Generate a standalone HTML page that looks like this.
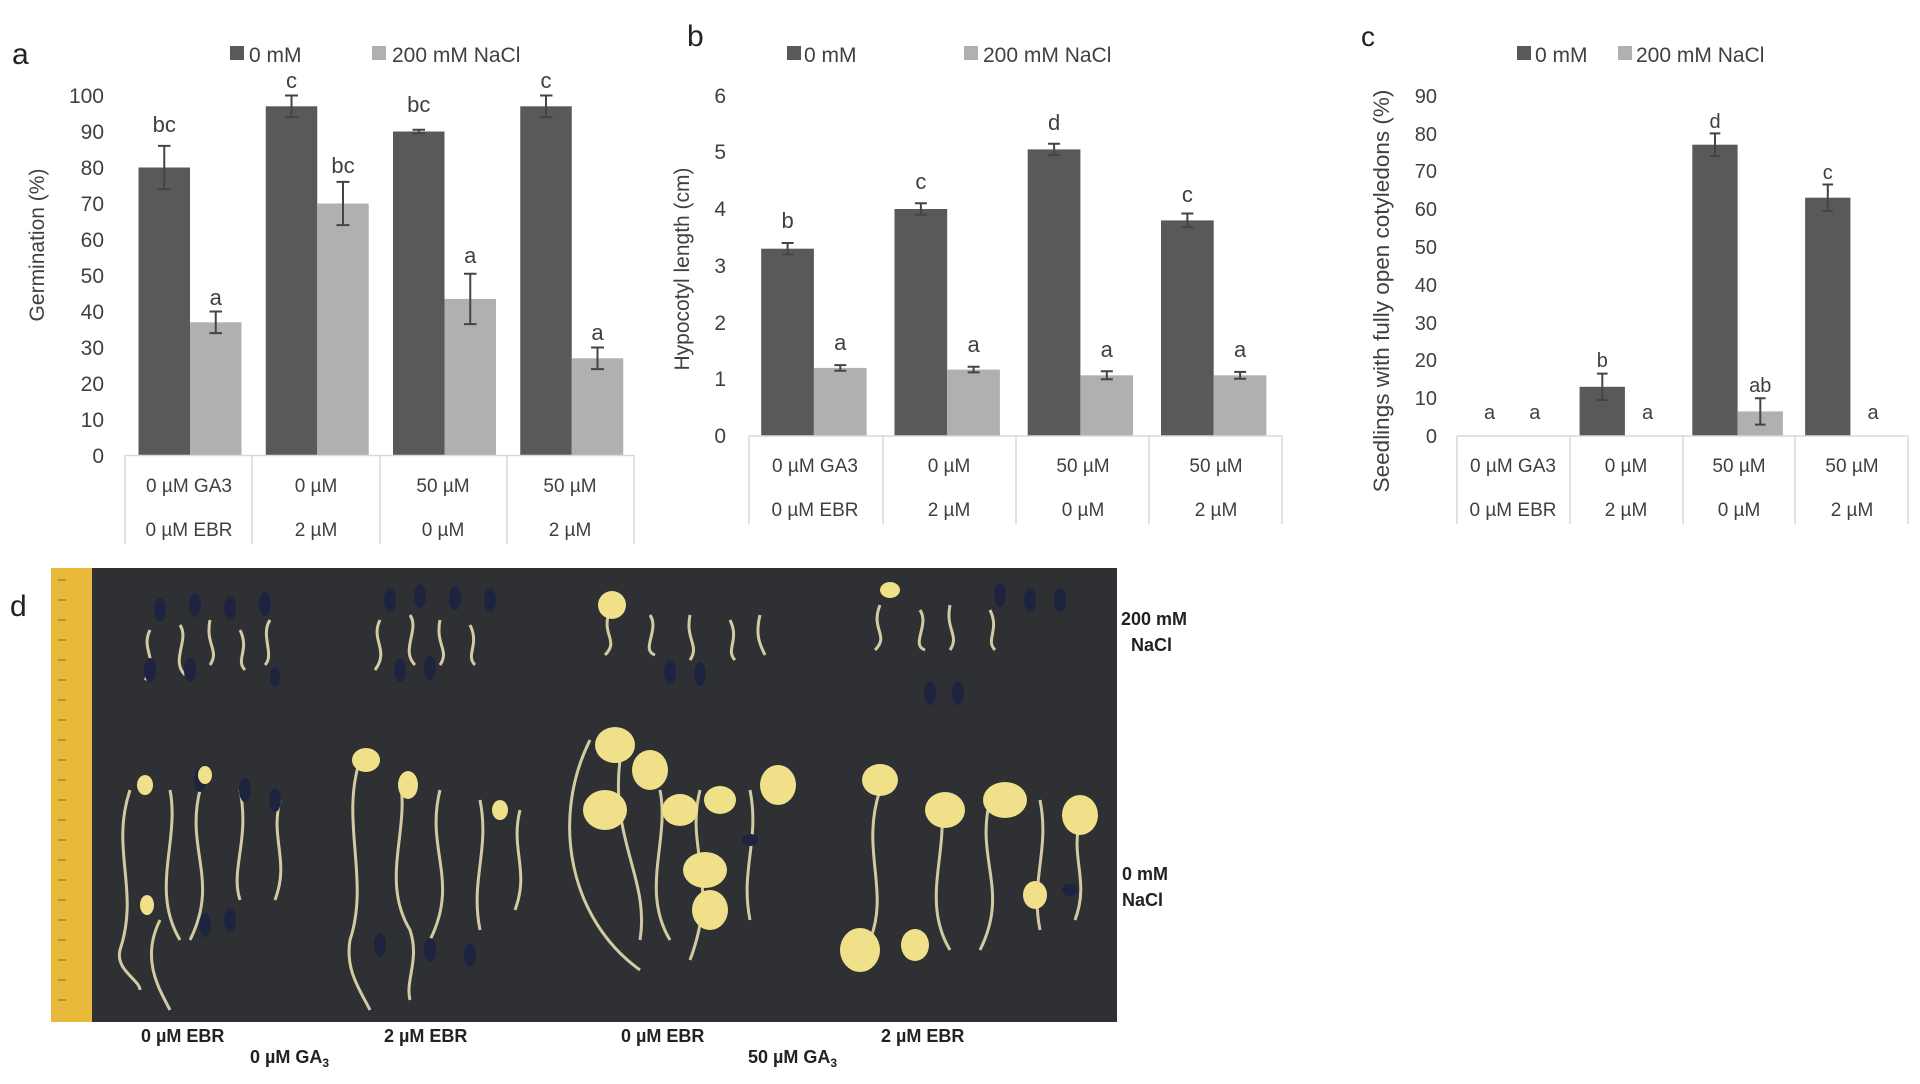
<!DOCTYPE html>
<html><head><meta charset="utf-8"><style>
html,body{margin:0;padding:0;background:#fff;}
svg{display:block;font-family:"Liberation Sans",sans-serif;}
.t{fill:#404040;}
</style></head><body>
<svg width="1920" height="1084" viewBox="0 0 1920 1084" xmlns="http://www.w3.org/2000/svg">
<rect width="1920" height="1084" fill="#fff"/>

<!-- ============ Chart a ============ -->
<text x="12" y="64" font-size="30" fill="#222">a</text>
<rect x="230" y="46" width="14" height="14" fill="#595959"/>
<text x="249" y="62" font-size="21" class="t">0 mM</text>
<rect x="372" y="46" width="14" height="14" fill="#b0b0b0"/>
<text x="392" y="62" font-size="21" class="t">200 mM NaCl</text>
<g font-size="21" class="t" text-anchor="end">
<text x="104" y="463">0</text><text x="104" y="427">10</text><text x="104" y="391">20</text><text x="104" y="355">30</text><text x="104" y="319">40</text><text x="104" y="283">50</text><text x="104" y="247">60</text><text x="104" y="211">70</text><text x="104" y="175">80</text><text x="104" y="139">90</text><text x="104" y="103">100</text>
</g>
<text transform="translate(44,245) rotate(-90)" font-size="21" class="t" text-anchor="middle">Germination (%)</text>
<g fill="#595959">
<rect x="138.5" y="167.5" width="51.5" height="288"/>
<rect x="265.75" y="106.3" width="51.5" height="349.2"/>
<rect x="393" y="131.5" width="51.5" height="324"/>
<rect x="520.25" y="106.3" width="51.5" height="349.2"/>
</g>
<g fill="#b0b0b0">
<rect x="190" y="322.3" width="51.5" height="133.2"/>
<rect x="317.25" y="203.5" width="51.5" height="252"/>
<rect x="444.5" y="298.9" width="51.5" height="156.6"/>
<rect x="571.75" y="358.3" width="51.5" height="97.2"/>
</g>
<g stroke="#444" stroke-width="2" fill="none">
<path d="M164.25 145.9V189.1M158 145.9h12.5M158 189.1h12.5"/>
<path d="M291.5 95.5V117.1M285 95.5h13M285 117.1h13"/>
<path d="M418.75 129.7V133.3M412.5 129.7h12.5M412.5 133.3h12.5"/>
<path d="M546 95.5V117.1M540 95.5h12.5M540 117.1h12.5"/>
<path d="M215.75 311.5V333.1M209.5 311.5h12.5M209.5 333.1h12.5"/>
<path d="M343 181.9V225.1M336.5 181.9h13M336.5 225.1h13"/>
<path d="M470.25 273.7V324.1M464 273.7h12.5M464 324.1h12.5"/>
<path d="M597.5 347.5V369.1M591 347.5h13M591 369.1h13"/>
</g>
<g font-size="22" class="t" text-anchor="middle">
<text x="164.25" y="132">bc</text><text x="291.5" y="88">c</text><text x="418.75" y="112">bc</text><text x="546" y="88">c</text>
<text x="215.75" y="305">a</text><text x="343" y="173">bc</text><text x="470.25" y="263">a</text><text x="597.5" y="340">a</text>
</g>
<g stroke="#d9d9d9" stroke-width="1.5">
<line x1="125" y1="455.5" x2="634" y2="455.5"/>
<line x1="125" y1="455" x2="125" y2="544"/><line x1="252" y1="455" x2="252" y2="544"/><line x1="380" y1="455" x2="380" y2="544"/><line x1="507" y1="455" x2="507" y2="544"/><line x1="634" y1="455" x2="634" y2="544"/>
</g>
<g font-size="19" class="t" text-anchor="middle">
<text x="189" y="492">0 µM GA3</text><text x="316" y="492">0 µM</text><text x="443" y="492">50 µM</text><text x="570" y="492">50 µM</text>
<text x="189" y="536">0 µM EBR</text><text x="316" y="536">2 µM</text><text x="443" y="536">0 µM</text><text x="570" y="536">2 µM</text>
</g>

<!-- ============ Chart b ============ -->
<text x="687" y="46" font-size="30" fill="#222">b</text>
<rect x="787" y="46" width="14" height="14" fill="#595959"/>
<text x="804" y="62" font-size="21" class="t">0 mM</text>
<rect x="964" y="46" width="14" height="14" fill="#b0b0b0"/>
<text x="983" y="62" font-size="21" class="t">200 mM NaCl</text>
<g font-size="21" class="t" text-anchor="end">
<text x="726" y="443">0</text><text x="726" y="386">1</text><text x="726" y="330">2</text><text x="726" y="273">3</text><text x="726" y="216">4</text><text x="726" y="159">5</text><text x="726" y="103">6</text>
</g>
<text transform="translate(689,269) rotate(-90)" font-size="21" class="t" text-anchor="middle">Hypocotyl length (cm)</text>
<g fill="#595959">
<rect x="761.2" y="248.7" width="52.7" height="187.3"/>
<rect x="894.5" y="209" width="52.7" height="227"/>
<rect x="1027.7" y="149.4" width="52.7" height="286.6"/>
<rect x="1161" y="220.4" width="52.7" height="215.6"/>
</g>
<g fill="#b0b0b0">
<rect x="813.9" y="367.9" width="52.7" height="68.1"/>
<rect x="947.2" y="369.6" width="52.7" height="66.4"/>
<rect x="1080.4" y="375.3" width="52.7" height="60.7"/>
<rect x="1213.7" y="375.3" width="52.7" height="60.7"/>
</g>
<g stroke="#444" stroke-width="2" fill="none">
<path d="M787.6 243V254.4M781.6 243h12M781.6 254.4h12"/>
<path d="M920.9 203.3V214.7M914.9 203.3h12M914.9 214.7h12"/>
<path d="M1054.1 143.7V155.1M1048.1 143.7h12M1048.1 155.1h12"/>
<path d="M1187.4 213.5V227.2M1181.4 213.5h12M1181.4 227.2h12"/>
<path d="M840.3 365.1V370.7M834.3 365.1h12M834.3 370.7h12"/>
<path d="M973.6 366.8V372.4M967.6 366.8h12M967.6 372.4h12"/>
<path d="M1106.8 371.3V379.3M1100.8 371.3h12M1100.8 379.3h12"/>
<path d="M1240.1 371.9V378.7M1234.1 371.9h12M1234.1 378.7h12"/>
</g>
<g font-size="22" class="t" text-anchor="middle">
<text x="787.6" y="228">b</text><text x="920.9" y="189">c</text><text x="1054.1" y="130">d</text><text x="1187.4" y="202">c</text>
<text x="840.3" y="350">a</text><text x="973.6" y="352">a</text><text x="1106.8" y="357">a</text><text x="1240.1" y="357">a</text>
</g>
<g stroke="#d9d9d9" stroke-width="1.5">
<line x1="749" y1="436" x2="1282" y2="436"/>
<line x1="749" y1="436" x2="749" y2="524"/><line x1="883" y1="436" x2="883" y2="524"/><line x1="1016" y1="436" x2="1016" y2="524"/><line x1="1149" y1="436" x2="1149" y2="524"/><line x1="1282" y1="436" x2="1282" y2="524"/>
</g>
<g font-size="19" class="t" text-anchor="middle">
<text x="815" y="472">0 µM GA3</text><text x="949" y="472">0 µM</text><text x="1083" y="472">50 µM</text><text x="1216" y="472">50 µM</text>
<text x="815" y="516">0 µM EBR</text><text x="949" y="516">2 µM</text><text x="1083" y="516">0 µM</text><text x="1216" y="516">2 µM</text>
</g>

<!-- ============ Chart c ============ -->
<text x="1361" y="46" font-size="28" fill="#222">c</text>
<rect x="1517" y="46" width="14" height="14" fill="#595959"/>
<text x="1535" y="62" font-size="21" class="t">0 mM</text>
<rect x="1618" y="46" width="14" height="14" fill="#b0b0b0"/>
<text x="1636" y="62" font-size="21" class="t">200 mM NaCl</text>
<g font-size="20" class="t" text-anchor="end">
<text x="1437" y="443">0</text><text x="1437" y="405">10</text><text x="1437" y="367">20</text><text x="1437" y="330">30</text><text x="1437" y="292">40</text><text x="1437" y="254">50</text><text x="1437" y="216">60</text><text x="1437" y="178">70</text><text x="1437" y="141">80</text><text x="1437" y="103">90</text>
</g>
<text transform="translate(1389,291) rotate(-90)" font-size="22.5" class="t" text-anchor="middle">Seedlings with fully open cotyledons (%)</text>
<g fill="#595959">
<rect x="1579.6" y="386.8" width="45.3" height="49.2"/>
<rect x="1692.3" y="144.7" width="45.3" height="291.3"/>
<rect x="1805.1" y="197.7" width="45.3" height="238.3"/>
</g>
<rect x="1737.6" y="411.4" width="45.3" height="24.6" fill="#b0b0b0"/>
<g stroke="#444" stroke-width="2" fill="none">
<path d="M1602.3 373.6V400M1597 373.6h10.6M1597 400h10.6"/>
<path d="M1715 133.4V156M1709.7 133.4h10.6M1709.7 156h10.6"/>
<path d="M1827.8 184.5V210.9M1822.5 184.5h10.6M1822.5 210.9h10.6"/>
<path d="M1760.3 398.2V424.6M1755 398.2h10.6M1755 424.6h10.6"/>
</g>
<g font-size="20" class="t" text-anchor="middle">
<text x="1489.5" y="419">a</text><text x="1534.8" y="419">a</text>
<text x="1602.3" y="367">b</text><text x="1647.6" y="419">a</text>
<text x="1715" y="128">d</text><text x="1760.3" y="392">ab</text>
<text x="1827.8" y="179">c</text><text x="1873.1" y="419">a</text>
</g>
<g stroke="#d9d9d9" stroke-width="1.5">
<line x1="1457" y1="436" x2="1908" y2="436"/>
<line x1="1457" y1="436" x2="1457" y2="524"/><line x1="1570" y1="436" x2="1570" y2="524"/><line x1="1683" y1="436" x2="1683" y2="524"/><line x1="1795" y1="436" x2="1795" y2="524"/><line x1="1908" y1="436" x2="1908" y2="524"/>
</g>
<g font-size="19" class="t" text-anchor="middle">
<text x="1513" y="472">0 µM GA3</text><text x="1626" y="472">0 µM</text><text x="1739" y="472">50 µM</text><text x="1852" y="472">50 µM</text>
<text x="1513" y="516">0 µM EBR</text><text x="1626" y="516">2 µM</text><text x="1739" y="516">0 µM</text><text x="1852" y="516">2 µM</text>
</g>

<!-- ============ Photo d ============ -->
<text x="10" y="616" font-size="30" fill="#222">d</text>
<rect x="51" y="568" width="1066" height="454" fill="#2e3034"/>
<rect x="51" y="568" width="41" height="454" fill="#e8b93a"/>
<g stroke="#8a6a20" stroke-width="1">
<path d="M58 580h8M58 600h8M58 620h8M58 640h8M58 660h8M58 680h8M58 700h8M58 720h8M58 740h8M58 760h8M58 780h8M58 800h8M58 820h8M58 840h8M58 860h8M58 880h8M58 900h8M58 920h8M58 940h8M58 960h8M58 980h8M58 1000h8"/>
</g>
<g stroke="#e6dcb0" stroke-width="3" fill="none" opacity="0.9">
<path d="M150 630c-10 20 10 30 -5 50M180 625c10 15 -10 35 5 50M210 620c-5 25 10 30 0 45M240 630c10 20 -5 30 5 40M270 620c-10 15 5 35 -5 45"/>
<path d="M380 620c-10 20 10 30 -5 50M410 615c10 15 -10 35 5 50M440 620c-5 25 10 30 0 45M470 625c10 20 -5 30 5 40"/>
<path d="M610 610c-10 25 10 30 -5 45M650 615c10 15 -10 35 5 40M690 615c-5 25 10 30 0 45M730 620c10 20 -5 30 5 40M760 615c-5 20 0 30 5 40"/>
<path d="M880 605c-10 25 10 30 -5 45M920 610c10 15 -10 35 5 40M950 605c-5 25 10 30 0 45M990 610c10 20 -5 30 5 40"/>
<path d="M130 790c-20 60 10 100 -10 160c-5 20 20 30 20 40M170 790c10 50 -20 100 10 150M200 790c-15 60 20 90 -10 150M240 790c10 50 -10 80 0 110M280 800c-10 40 10 60 -5 100M160 920c-20 40 0 70 10 90"/>
<path d="M360 760c-20 60 10 120 -10 180c-5 30 10 50 20 70M400 780c10 50 -20 100 10 150c10 30 -5 50 0 70M440 790c-15 60 20 90 -10 150M480 800c10 50 -10 80 0 130M520 810c-10 40 10 60 -5 100"/>
<path d="M590 740c-40 80 -20 180 50 230M620 760c-10 80 30 120 20 180M660 790c10 50 -20 100 10 150M700 790c-15 60 20 90 -10 170M750 790c10 50 -10 80 0 130"/>
<path d="M880 790c-20 60 10 100 -10 150M940 800c10 50 -20 100 10 150M990 800c-15 60 20 90 -10 150M1040 800c10 50 -10 80 0 130M1080 820c-10 40 10 60 -5 100"/>
</g>
<g fill="#1e2440">
<ellipse cx="160" cy="610" rx="6" ry="12"/><ellipse cx="195" cy="605" rx="6" ry="12"/><ellipse cx="230" cy="608" rx="6" ry="12"/><ellipse cx="265" cy="604" rx="6" ry="12"/>
<ellipse cx="150" cy="670" rx="6" ry="12"/><ellipse cx="190" cy="670" rx="6" ry="12"/><ellipse cx="275" cy="677" rx="5" ry="10"/>
<ellipse cx="390" cy="600" rx="6" ry="12"/><ellipse cx="420" cy="596" rx="6" ry="12"/><ellipse cx="455" cy="598" rx="6" ry="12"/><ellipse cx="490" cy="600" rx="6" ry="12"/>
<ellipse cx="400" cy="670" rx="6" ry="12"/><ellipse cx="430" cy="668" rx="6" ry="12"/><ellipse cx="670" cy="672" rx="6" ry="12"/><ellipse cx="700" cy="674" rx="6" ry="12"/>
<ellipse cx="930" cy="693" rx="6" ry="12"/><ellipse cx="958" cy="693" rx="6" ry="12"/>
<ellipse cx="1000" cy="595" rx="6" ry="12"/><ellipse cx="1030" cy="600" rx="6" ry="12"/><ellipse cx="1060" cy="600" rx="6" ry="12"/>
<ellipse cx="200" cy="780" rx="6" ry="12"/><ellipse cx="245" cy="790" rx="6" ry="12"/><ellipse cx="275" cy="800" rx="6" ry="12"/>
<ellipse cx="205" cy="925" rx="6" ry="12"/><ellipse cx="230" cy="920" rx="6" ry="12"/><ellipse cx="380" cy="945" rx="6" ry="12"/><ellipse cx="430" cy="950" rx="6" ry="12"/><ellipse cx="470" cy="955" rx="6" ry="12"/>
<ellipse cx="750" cy="840" rx="8" ry="6"/><ellipse cx="1070" cy="890" rx="8" ry="6"/>
</g>
<g fill="#f0e08a">
<ellipse cx="145" cy="785" rx="8" ry="10"/><ellipse cx="205" cy="775" rx="7" ry="9"/><ellipse cx="147" cy="905" rx="7" ry="10"/>
<ellipse cx="366" cy="760" rx="14" ry="12"/><ellipse cx="408" cy="785" rx="10" ry="14"/><ellipse cx="500" cy="810" rx="8" ry="10"/>
<ellipse cx="615" cy="745" rx="20" ry="18"/><ellipse cx="650" cy="770" rx="18" ry="20"/><ellipse cx="605" cy="810" rx="22" ry="20"/><ellipse cx="680" cy="810" rx="18" ry="16"/><ellipse cx="720" cy="800" rx="16" ry="14"/><ellipse cx="778" cy="785" rx="18" ry="20"/><ellipse cx="705" cy="870" rx="22" ry="18"/><ellipse cx="710" cy="910" rx="18" ry="20"/>
<ellipse cx="880" cy="780" rx="18" ry="16"/><ellipse cx="945" cy="810" rx="20" ry="18"/><ellipse cx="1005" cy="800" rx="22" ry="18"/><ellipse cx="1080" cy="815" rx="18" ry="20"/><ellipse cx="860" cy="950" rx="20" ry="22"/><ellipse cx="915" cy="945" rx="14" ry="16"/><ellipse cx="1035" cy="895" rx="12" ry="14"/>
<ellipse cx="612" cy="605" rx="14" ry="14"/><ellipse cx="890" cy="590" rx="10" ry="8"/>
</g>
<g font-size="18" font-weight="bold" fill="#222">
<text x="1121" y="625">200 mM</text><text x="1131" y="651">NaCl</text>
<text x="1122" y="880">0 mM</text><text x="1122" y="906">NaCl</text>
<text x="141" y="1042">0 µM EBR</text><text x="384" y="1042">2 µM EBR</text><text x="621" y="1042">0 µM EBR</text><text x="881" y="1042">2 µM EBR</text>
<text x="250" y="1063">0 µM GA<tspan font-size="12" dy="4">3</tspan></text>
<text x="748" y="1063">50 µM GA<tspan font-size="12" dy="4">3</tspan></text>
</g>
</svg>
</body></html>
